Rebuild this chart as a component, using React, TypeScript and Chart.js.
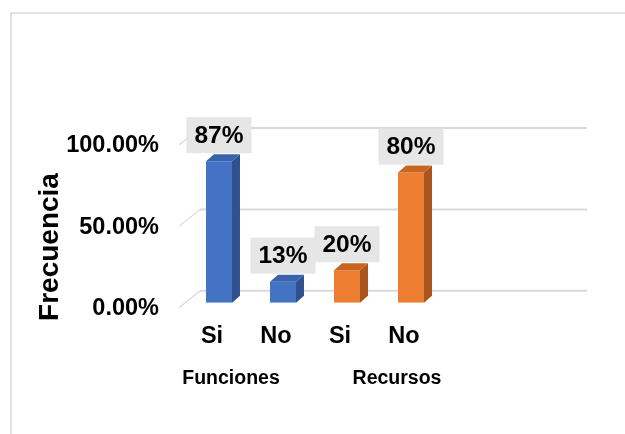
import React, { useEffect, useRef } from "react";
import { Chart, registerables } from "chart.js";

Chart.register(...registerables);

// Survey answers, grouped by topic
const categories = ["Si", "No", "Si", "No"];
const groups = ["Funciones", "Recursos"];
const values = [87, 13, 20, 80];
const valueLabels = ["87%", "13%", "20%", "80%"];
const yTicks = [0, 50, 100];
const yTitle = "Frecuencia";

const FONT = "'Liberation Sans', Arial, sans-serif";
const frontColors = ["#4472c4", "#4472c4", "#ed7d31", "#ed7d31"];
const sideColors = ["#2f528f", "#2f528f", "#a9561d", "#a9561d"];
const topColors = ["#3a63ad", "#3a63ad", "#c8651f", "#c8651f"];

// depth of each column
const BAR_DX = 8;
const BAR_DY = 7;

const depthPlugin = {
  id: "depth3d",
  beforeDatasetsDraw(chart: any) {
    const { ctx, chartArea, scales } = chart;
    const y = scales.y;
    ctx.save();
    // outer frame
    ctx.strokeStyle = "#d9d9d9";
    ctx.lineWidth = 1.5;
    ctx.strokeRect(11, 13, 700, 500);

    // back wall gridlines with their floor-side diagonals
    const frontX = chartArea.left - 8;
    const backX = chartArea.left + 13;
    const endX = chartArea.right + 144;
    yTicks.forEach((v) => {
      const py = y.getPixelForValue(v);
      ctx.strokeStyle = "#d9d9d9";
      ctx.lineWidth = 2;
      ctx.beginPath();
      ctx.moveTo(backX, py - 12);
      ctx.lineTo(endX, py - 12);
      ctx.stroke();
      ctx.lineWidth = 1.2;
      ctx.beginPath();
      ctx.moveTo(frontX, py + 5);
      ctx.lineTo(backX, py - 12);
      ctx.stroke();
    });

    // vertical axis title
    ctx.translate(50, 247);
    ctx.rotate(-Math.PI / 2);
    ctx.fillStyle = "#000";
    ctx.font = `bold 28px ${FONT}`;
    ctx.textAlign = "center";
    ctx.textBaseline = "middle";
    ctx.fillText(yTitle, 0, 0);
    ctx.restore();
  },
  afterDatasetsDraw(chart: any) {
    const { ctx, scales } = chart;
    const meta = chart.getDatasetMeta(0);
    ctx.save();
    meta.data.forEach((bar: any, i: number) => {
      const { x, y, base, width } = bar.getProps(["x", "y", "base", "width"], true);
      const l = x - width / 2;
      const r = x + width / 2;
      // side face
      ctx.fillStyle = sideColors[i];
      ctx.beginPath();
      ctx.moveTo(r, y);
      ctx.lineTo(r + BAR_DX, y - BAR_DY);
      ctx.lineTo(r + BAR_DX, base - BAR_DY);
      ctx.lineTo(r, base);
      ctx.closePath();
      ctx.fill();
      // top face
      ctx.fillStyle = topColors[i];
      ctx.beginPath();
      ctx.moveTo(l, y);
      ctx.lineTo(l + BAR_DX, y - BAR_DY);
      ctx.lineTo(r + BAR_DX, y - BAR_DY);
      ctx.lineTo(r, y);
      ctx.closePath();
      ctx.fill();
    });

    // value labels in grey boxes
    meta.data.forEach((bar: any, i: number) => {
      const { x, y } = bar.getProps(["x", "y"], true);
      const bw = 65;
      const bh = 36;
      const bottom = y - 8;
      ctx.fillStyle = "#e7e6e6";
      ctx.fillRect(x - bw / 2, bottom - bh, bw, bh);
      ctx.fillStyle = "#000";
      ctx.font = `bold 24.5px ${FONT}`;
      ctx.textAlign = "center";
      ctx.textBaseline = "middle";
      ctx.fillText(valueLabels[i], x, bottom - bh / 2 + 1);
    });

    // group labels under the category labels
    const xs = scales.x;
    ctx.fillStyle = "#000";
    ctx.font = `bold 19.5px ${FONT}`;
    ctx.textAlign = "center";
    ctx.textBaseline = "middle";
    ctx.fillText(groups[0], xs.getPixelForValue(0) + 12, 379);
    ctx.fillText(groups[1], xs.getPixelForValue(3) - 14, 379);
    ctx.restore();
  },
};

export default function App() {
  const ref = useRef<HTMLCanvasElement>(null);

  useEffect(() => {
    document.body.style.margin = "0";
    if (!ref.current) return;
    const chart = new Chart(ref.current, {
      type: "bar",
      data: {
        labels: categories,
        datasets: [
          {
            data: values,
            backgroundColor: frontColors,
            borderWidth: 0,
            categoryPercentage: 1,
            barPercentage: 0.406,
          },
        ],
      },
      options: {
        responsive: false,
        animation: false,
        devicePixelRatio: 1,
        layout: { padding: { left: 30, right: 182, top: 140, bottom: 63 } },
        plugins: {
          legend: { display: false },
          tooltip: { enabled: false },
        },
        scales: {
          x: {
            grid: { display: false, drawTicks: false },
            border: { display: false },
            ticks: {
              color: "#000",
              font: { family: FONT, size: 23.5, weight: "bold" },
              padding: 20,
              labelOffset: -7,
              maxRotation: 0,
            },
          },
          y: {
            min: 0,
            max: 100,
            grid: { display: false, drawTicks: false },
            border: { display: false },
            afterFit: (scale: any) => {
              scale.width = 157;
            },
            ticks: {
              stepSize: 50,
              color: "#000",
              font: { family: FONT, size: 23.5, weight: "bold" },
              padding: 28,
              labelOffset: 6,
              callback: (v: any) => Number(v).toFixed(2) + "%",
            },
          },
        },
      },
      plugins: [depthPlugin],
    });
    return () => chart.destroy();
  }, []);

  return <canvas ref={ref} width={625} height={434} />;
}
